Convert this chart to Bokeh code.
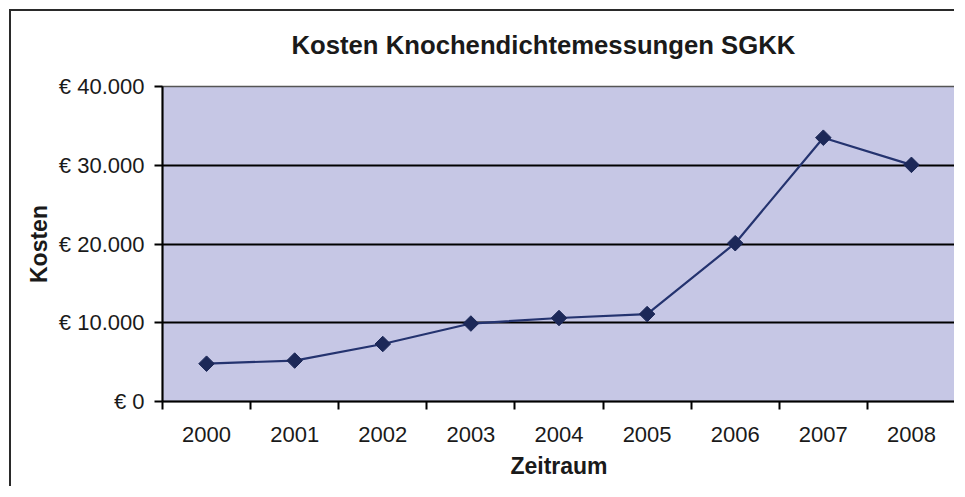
import math
from bokeh.plotting import figure
from bokeh.models import FixedTicker, Range1d
from bokeh.embed import file_html
from bokeh.resources import INLINE

years = [2000, 2001, 2002, 2003, 2004, 2005, 2006, 2007, 2008]
kosten = [4800, 5200, 7300, 9900, 10600, 11100, 20100, 33500, 30050]
y_ticks = [0, 10000, 20000, 30000, 40000]
y_tick_labels = ["€ 0", "€ 10.000", "€ 20.000", "€ 30.000", "€ 40.000"]
title_text = "Kosten Knochendichtemessungen SGKK"
x_label = "Zeitraum"
y_label = "Kosten"

FONT = "Liberation Sans"

p = figure(width=945, height=477, output_backend="svg", toolbar_location=None,
           x_range=Range1d(years[0] - 0.5, years[-1] + 0.5),
           y_range=Range1d(y_ticks[0], y_ticks[-1]),
           min_border_left=151, min_border_right=1, min_border_top=75, min_border_bottom=87)
p.styles = {"border-left": "2px solid #2a2a2a", "border-top": "2px solid #2a2a2a",
            "margin-left": "9px", "margin-top": "9px"}

# trailing empty line gives the title box extra height so the text sits higher
p.title.text = title_text + "\n "
p.title.align = "left"
p.title.vertical_align = "top"
p.title.offset = 129
p.title.standoff = -4
p.title.text_font = FONT
p.title.text_font_size = "25.7px"
p.title.text_font_style = "bold"
p.title.text_color = "#1a1a1a"

p.background_fill_color = "#C6C7E5"
p.border_fill_color = "white"
p.outline_line_color = "#555555"
p.outline_line_width = 1.5

# x axis
p.xaxis.ticker = FixedTicker(ticks=years, minor_ticks=[y - 0.5 for y in years] + [years[-1] + 0.5])
p.xaxis.major_label_overrides = {y: str(y) for y in years}
p.xaxis.major_tick_line_color = None
p.xaxis.major_tick_out = 0
p.xaxis.major_tick_in = 0
p.xaxis.minor_tick_line_color = "black"
p.xaxis.minor_tick_line_width = 2
p.xaxis.minor_tick_out = 8
p.xaxis.minor_tick_in = 0
p.xaxis.axis_label = x_label

# y axis
p.yaxis.ticker = FixedTicker(ticks=y_ticks, minor_ticks=[])
p.yaxis.major_label_overrides = dict(zip(y_ticks, y_tick_labels))
p.yaxis.major_tick_line_color = "black"
p.yaxis.major_tick_line_width = 2
p.yaxis.major_tick_out = 8
p.yaxis.major_tick_in = 0
p.yaxis.axis_label = y_label

for ax in (p.xaxis, p.yaxis):
    ax.axis_line_color = "black"
    ax.axis_line_width = 2
    ax.major_label_text_font = FONT
    ax.major_label_text_font_size = "22px"
    ax.major_label_text_color = "#1a1a1a"
    ax.axis_label_text_font = FONT
    ax.axis_label_text_font_size = "23px"
    ax.axis_label_text_font_style = "bold"
    ax.axis_label_text_color = "#1a1a1a"

p.xaxis.major_label_standoff = 17
p.xaxis.axis_label_standoff = 8
p.yaxis.major_label_standoff = 10
p.yaxis.axis_label_standoff = 4

p.xgrid.grid_line_color = None
p.ygrid.ticker = FixedTicker(ticks=y_ticks)
p.ygrid.grid_line_color = "black"
p.ygrid.grid_line_width = 2

p.line(years, kosten, line_color="#24336F", line_width=2.2)
p.scatter(years, kosten, marker="square", angle=math.pi / 4, size=11,
          fill_color="#1C2858", line_color="#1C2858")

open("out.html", "w").write(file_html(p, INLINE))
